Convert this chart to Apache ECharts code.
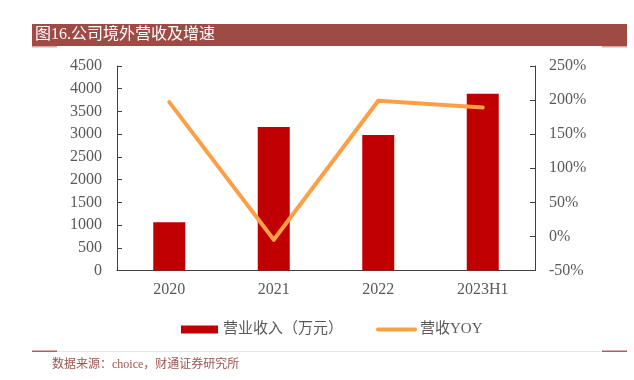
<!DOCTYPE html>
<html>
<head>
    <meta charset="utf-8">
    <style>
        html, body {
            width: 100%;
            height: 100%;
            margin: 0;
            background: #fff;
        }

        #chart-panel {
            width: 634px;
            height: 380px;
        }
    </style>
    <script src="https://cdn.jsdelivr.net/npm/echarts@6/dist/echarts.min.js"></script>
</head>
<body>
<div id="chart-panel"></div>
<script type="text/javascript">
  // data
  var categories = ['2020', '2021', '2022', '2023H1']
  var revenue = [1060, 3160, 2980, 3890]      // 营业收入（万元）
  var revenueYoy = [197, -5, 199, 189]        // 营收YOY, %
  var leftTicks = {min: 0, max: 4500, interval: 500}
  var rightTicks = {min: -50, max: 250, interval: 50}

  var serifFont = "'Liberation Serif', 'Times New Roman', 'Noto Sans CJK SC', serif"
  var grey = '#595959'
  var axisColor = '#404040'

  var myChart = echarts.init(document.getElementById('chart-panel'))

  var option = {
    animation: false,
    textStyle: {fontFamily: serifFont},
    color: ['#C00000', '#FF9F45'],
    graphic: [
      // title bar
      {type: 'rect', shape: {x: 32, y: 24, width: 595, height: 22}, style: {fill: '#9E4B46'}},
      {type: 'rect', shape: {x: 32, y: 46, width: 25, height: 1.5}, style: {fill: '#D2A9A6'}},
      {type: 'rect', shape: {x: 602, y: 46, width: 25, height: 1.5}, style: {fill: '#D2A9A6'}},
      {
        type: 'text', left: 35, top: 27,
        style: {text: '图16.公司境外营收及增速', fill: '#fff', font: '16px ' + serifFont}
      },
      // footer
      {type: 'rect', shape: {x: 32, y: 351, width: 595, height: 1}, style: {fill: '#EDE6E6'}},
      {type: 'rect', shape: {x: 32, y: 350.5, width: 25, height: 1.5}, style: {fill: '#B0605B'}},
      {type: 'rect', shape: {x: 602, y: 350.5, width: 25, height: 1.5}, style: {fill: '#B0605B'}},
      {
        type: 'text', left: 52, top: 359,
        style: {text: '数据来源：choice，财通证券研究所', fill: '#A05550', font: '12px ' + serifFont}
      }
    ],
    legend: {
      left: 176,
      top: 317,
      itemGap: 33,
      itemWidth: 37,
      itemHeight: 8,
      textStyle: {color: grey, fontSize: 15, fontFamily: serifFont},
      data: [
        {name: '营业收入（万元）', icon: 'rect'},
        {name: '营收YOY', itemStyle: {opacity: 0}, lineStyle: {width: 4, cap: 'round'}}
      ]
    },
    grid: {
      left: 117,
      top: 66,
      width: 418,
      height: 204.5,
      containLabel: false
    },
    xAxis: {
      type: 'category',
      data: categories,
      axisLine: {lineStyle: {color: axisColor}},
      axisTick: {inside: true, length: 5, lineStyle: {color: axisColor}},
      axisLabel: {color: grey, fontSize: 16, margin: 11}
    },
    yAxis: [
      {
        type: 'value',
        min: leftTicks.min,
        max: leftTicks.max,
        interval: leftTicks.interval,
        axisLine: {show: true, lineStyle: {color: axisColor}},
        axisTick: {show: true, inside: true, length: 5, lineStyle: {color: axisColor}},
        axisLabel: {color: grey, fontSize: 16, margin: 15, formatter: function (v) { return String(v) }},
        splitLine: {show: false}
      },
      {
        type: 'value',
        min: rightTicks.min,
        max: rightTicks.max,
        interval: rightTicks.interval,
        axisLine: {show: true, lineStyle: {color: axisColor}},
        axisTick: {show: true, inside: true, length: 5, lineStyle: {color: axisColor}},
        axisLabel: {color: grey, fontSize: 16, margin: 14, formatter: '{value}%'},
        splitLine: {show: false}
      }
    ],
    series: [
      {
        name: '营业收入（万元）',
        type: 'bar',
        data: revenue,
        barWidth: 32,
        itemStyle: {color: '#C00000'}
      },
      {
        name: '营收YOY',
        type: 'line',
        yAxisIndex: 1,
        data: revenueYoy,
        symbol: 'none',
        lineStyle: {width: 4, color: '#FF9F45', cap: 'round', join: 'round'}
      }
    ]
  }

  myChart.setOption(option)
</script>
</body>
</html>
